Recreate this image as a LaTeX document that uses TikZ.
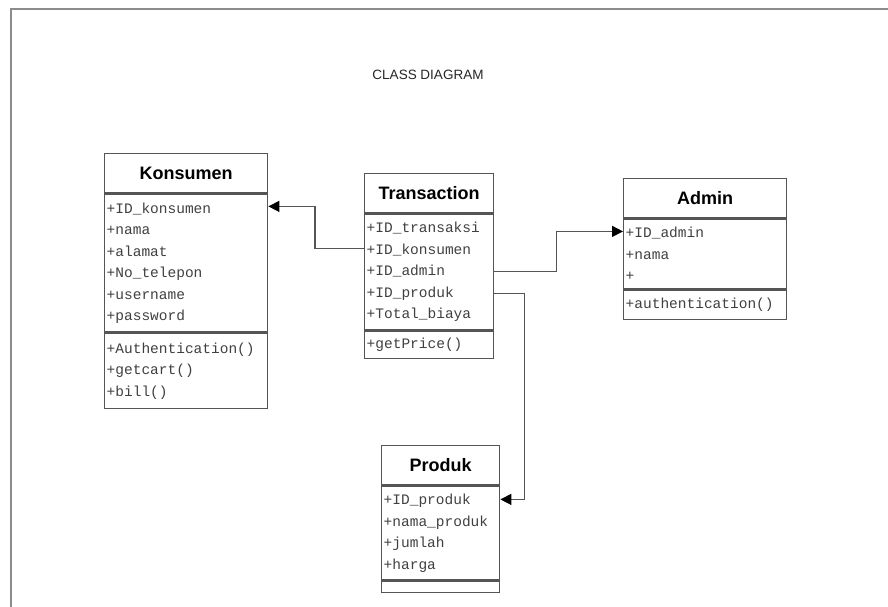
\documentclass[tikz,border=0pt]{standalone}
\usepackage{fontspec}
\setmainfont{Liberation Sans}
\newfontfamily\umlmono{Liberation Mono}
\usetikzlibrary{arrows.meta,positioning}
\definecolor{linegray}{HTML}{555555}
\definecolor{framegray}{HTML}{8C8C8C}

\begin{document}
\begin{tikzpicture}[x=1pt,y=-1pt,>={Triangle[length=11pt,width=11pt,fill=black,color=black]},
  classhead/.style={draw=linegray,line width=1.4pt,inner sep=0pt,minimum height=39pt,font=\bfseries\fontsize{18}{20}\selectfont},
  classbody/.style={draw=linegray,line width=1.4pt,align=left,inner xsep=2pt,inner ysep=0pt,text=black!75,font=\umlmono\fontsize{14.5}{21.5}\selectfont},
  assoc/.style={->,draw=linegray,line width=1.5pt}]
\useasboundingbox (0,0) rectangle (888,607);
% frame
\draw[framegray,line width=2pt] (11,607) -- (11,9) -- (888,9);
\node[text=black!85,font=\fontsize{13.5}{15}\selectfont] (title) at (428,75) {CLASS DIAGRAM};

% Konsumen
\node[classhead,anchor=north west,minimum width=163pt] (kh) at (104,153) {Konsumen};
\node[classbody,text width=159pt,minimum height=138pt,below=0pt of kh] (ka) {+ID\_konsumen\\+nama\\+alamat\\+No\_telepon\\+username\\+password};
\node[classbody,text width=159pt,minimum height=75pt,below=0pt of ka] (km) {+Authentication()\\+getcart()\\+bill()};

% Transaction
\node[classhead,anchor=north west,minimum width=129pt] (th) at (364,173) {Transaction};
\node[classbody,text width=125pt,minimum height=116pt,below=0pt of th] (ta) {+ID\_transaksi\\+ID\_konsumen\\+ID\_admin\\+ID\_produk\\+Total\_biaya};
\node[classbody,text width=125pt,minimum height=27pt,below=0pt of ta] (tm) {+getPrice()};

% Admin
\node[classhead,anchor=north west,minimum width=163pt] (ah) at (623,178) {Admin};
\node[classbody,text width=159pt,minimum height=70pt,below=0pt of ah] (aa) {+ID\_admin\\+nama\\+};
\node[classbody,text width=159pt,minimum height=29pt,below=0pt of aa] (am) {+authentication()};

% Produk
\node[classhead,anchor=north west,minimum width=118pt] (ph) at (381,445) {Produk};
\node[classbody,text width=114pt,minimum height=94pt,below=0pt of ph] (pa) {+ID\_produk\\+nama\_produk\\+jumlah\\+harga};
\node[classbody,text width=114pt,minimum height=11pt,below=0pt of pa] (pm) {};

% associations
\draw[assoc] ([yshift=-35pt]ta.north west) -- ++(-49,0) |- ([yshift=-13pt]ka.north east);
\draw[assoc] ([yshift=-58pt]ta.north east) -- ++(62,0) |- ([yshift=-13pt]aa.north west);
\draw[assoc] ([yshift=-80pt]ta.north east) -- ++(30,0) |- ([yshift=-14pt]pa.north east);
\end{tikzpicture}
\end{document}
